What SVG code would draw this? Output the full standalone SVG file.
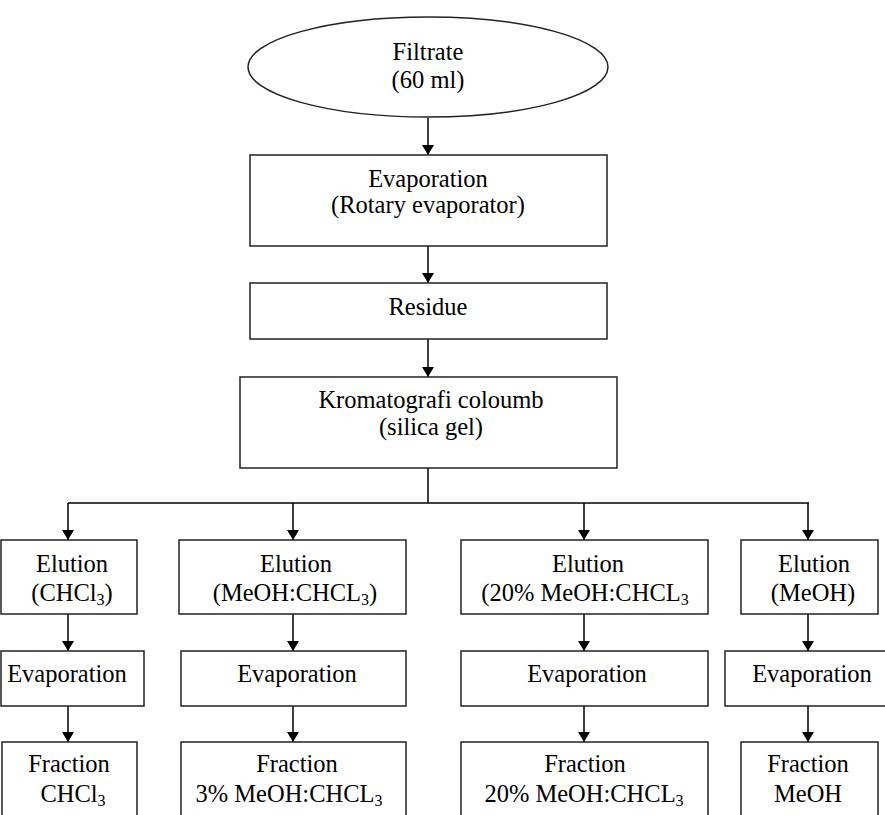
<svg xmlns="http://www.w3.org/2000/svg" width="885" height="815" viewBox="0 0 885 815">
<defs>
<marker id="ah" viewBox="0 0 10 12" refX="10" refY="6" markerWidth="10" markerHeight="12" markerUnits="userSpaceOnUse" orient="auto">
<path d="M0,0 L10,6 L0,12 Z" fill="#000"/>
</marker>
</defs>
<style>
.box{fill:#fff;stroke:#222;stroke-width:1.5}
.t{font-family:"Liberation Serif","Times New Roman",serif;font-size:24.5px;fill:#000;text-anchor:middle}
.ln{stroke:#000;stroke-width:1.5;fill:none}
.ar{stroke:#000;stroke-width:1.5;fill:none;marker-end:url(#ah)}
.s{font-size:16px}
</style>
<rect width="885" height="815" fill="#fff"/>
<g id="connectors">
<line class="ar" x1="428" y1="118" x2="428" y2="155"/>
<line class="ar" x1="428" y1="246" x2="428" y2="283"/>
<line class="ar" x1="428" y1="339" x2="428" y2="377"/>
<line class="ln" x1="428" y1="468" x2="428" y2="503"/>
<line class="ln" x1="68" y1="503" x2="809" y2="503"/>
<line class="ar" x1="68" y1="503" x2="68" y2="540"/>
<line class="ar" x1="293" y1="503" x2="293" y2="540"/>
<line class="ar" x1="584" y1="503" x2="584" y2="540"/>
<line class="ar" x1="808" y1="503" x2="808" y2="540"/>
<line class="ar" x1="68" y1="614" x2="68" y2="651"/>
<line class="ar" x1="293" y1="614" x2="293" y2="651"/>
<line class="ar" x1="584" y1="614" x2="584" y2="651"/>
<line class="ar" x1="808" y1="614" x2="808" y2="651"/>
<line class="ar" x1="68" y1="706" x2="68" y2="742"/>
<line class="ar" x1="293" y1="706" x2="293" y2="742"/>
<line class="ar" x1="584" y1="706" x2="584" y2="742"/>
<line class="ar" x1="808" y1="706" x2="808" y2="742"/>
</g>
<g id="filtrate">
<ellipse class="box" cx="428" cy="67" rx="180" ry="50"/>
<text class="t" x="428" y="60">Filtrate</text>
<text class="t" x="428" y="88">(60 ml)</text>
</g>
<g id="evaporation-main">
<rect class="box" x="250" y="155" width="357" height="91"/>
<text class="t" x="428" y="187">Evaporation</text>
<text class="t" x="428" y="213">(Rotary evaporator)</text>
</g>
<g id="residue">
<rect class="box" x="250" y="283" width="357" height="56"/>
<text class="t" x="428" y="315">Residue</text>
</g>
<g id="kromatografi">
<rect class="box" x="240" y="377" width="377" height="91"/>
<text class="t" x="431" y="408">Kromatografi coloumb</text>
<text class="t" x="431" y="435">(silica gel)</text>
</g>
<g id="elution1">
<rect class="box" x="1" y="540" width="136" height="74"/>
<text class="t" x="72" y="572">Elution</text>
<text class="t" x="72" y="601">(CHCl<tspan class="s" dy="4">3</tspan><tspan dy="-4">)</tspan></text>
</g>
<g id="elution2">
<rect class="box" x="179" y="540" width="227" height="74"/>
<text class="t" x="296" y="572">Elution</text>
<text class="t" x="295" y="601">(MeOH:CHCL<tspan class="s" dy="4">3</tspan><tspan dy="-4">)</tspan></text>
</g>
<g id="elution3">
<rect class="box" x="461" y="540" width="247" height="74"/>
<text class="t" x="588" y="572">Elution</text>
<text class="t" x="585" y="601">(20% MeOH:CHCL<tspan class="s" dy="4">3</tspan></text>
</g>
<g id="elution4">
<rect class="box" x="741" y="540" width="137" height="74"/>
<text class="t" x="814" y="572">Elution</text>
<text class="t" x="813" y="601">(MeOH)</text>
</g>
<g id="evap1">
<rect class="box" x="1" y="651" width="143" height="55"/>
<text class="t" x="67" y="682">Evaporation</text>
</g>
<g id="evap2">
<rect class="box" x="181" y="651" width="225" height="55"/>
<text class="t" x="297" y="682">Evaporation</text>
</g>
<g id="evap3">
<rect class="box" x="461" y="651" width="247" height="55"/>
<text class="t" x="587" y="682">Evaporation</text>
</g>
<g id="evap4">
<rect class="box" x="725" y="651" width="165" height="55"/>
<text class="t" x="812" y="682">Evaporation</text>
</g>
<g id="fraction1">
<rect class="box" x="2" y="742" width="135" height="90"/>
<text class="t" x="69" y="772">Fraction</text>
<text class="t" x="73" y="802">CHCl<tspan class="s" dy="4">3</tspan></text>
</g>
<g id="fraction2">
<rect class="box" x="181" y="742" width="225" height="90"/>
<text class="t" x="297" y="772">Fraction</text>
<text class="t" x="289" y="802">3% MeOH:CHCL<tspan class="s" dy="4">3</tspan></text>
</g>
<g id="fraction3">
<rect class="box" x="461" y="742" width="247" height="90"/>
<text class="t" x="585" y="772">Fraction</text>
<text class="t" x="584" y="802">20% MeOH:CHCL<tspan class="s" dy="4">3</tspan></text>
</g>
<g id="fraction4">
<rect class="box" x="741" y="742" width="137" height="90"/>
<text class="t" x="808" y="772">Fraction</text>
<text class="t" x="808" y="802">MeOH</text>
</g>
</svg>
